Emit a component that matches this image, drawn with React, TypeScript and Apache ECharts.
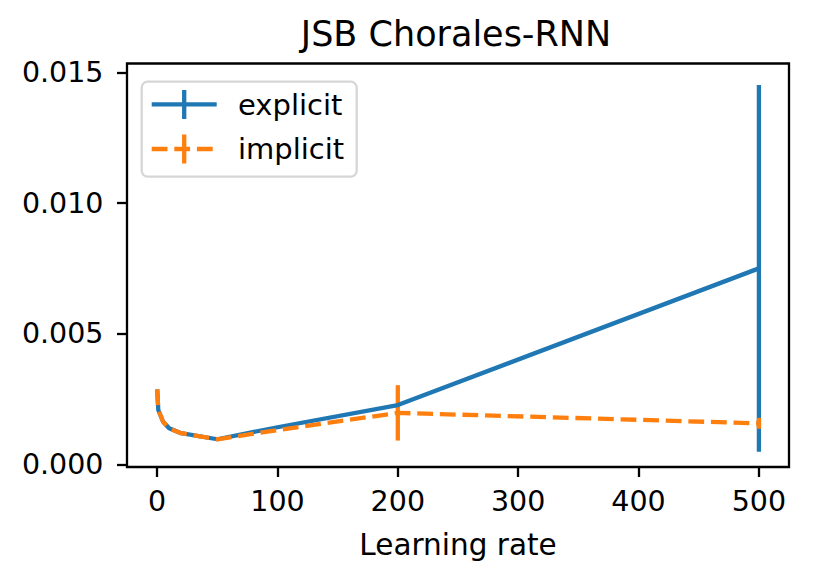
import React, { useEffect, useRef } from 'react';
import * as echarts from 'echarts';

const chartTitle = 'JSB Chorales-RNN';
const xAxisLabel = 'Learning rate';
const seriesNames = ['explicit', 'implicit'];
const learningRates = [0.1, 1, 5, 10, 20, 50, 100, 200, 500];
const explicitValues = [0.00287, 0.00208, 0.00163, 0.00138, 0.00119, 0.00096, 0.00142, 0.00227, 0.0075];
const implicitValues = [0.00287, 0.00208, 0.00163, 0.00138, 0.00119, 0.00096, 0.00131, 0.00197, 0.00157];
const explicitErrors = [0, 0, 0, 0, 0, 0, 0, 0, 0.00702];
const implicitErrors = [0, 0, 0, 0, 0, 0, 0, 0.00106, 0.00021];
const xTicks = [0, 100, 200, 300, 400, 500];
const yTicks = [0, 0.005, 0.01, 0.015];

const BLUE = '#1f77b4';
const ORANGE = '#ff7f0e';
const FONT = 'DejaVu Sans';
const LW = 4.3;
const DASH = [15.8, 6.8];

function errorSeries(name: string, values: number[], errors: number[], color: string) {
  return {
    type: 'custom',
    name: name + ' err',
    data: learningRates.map((x, i) => [x, values[i] - errors[i], values[i] + errors[i]]),
    encode: { x: 0, y: [1, 2] },
    renderItem: (params: any, api: any) => {
      const x = api.value(0);
      const lo = api.value(1);
      const hi = api.value(2);
      if (hi - lo <= 0) return null;
      const p1 = api.coord([x, lo]);
      const p2 = api.coord([x, hi]);
      return {
        type: 'line',
        shape: { x1: p1[0], y1: p1[1], x2: p2[0], y2: p2[1] },
        style: { stroke: color, lineWidth: LW },
      };
    },
    silent: true,
  };
}

export default function App() {
  const ref = useRef<HTMLDivElement>(null);
  useEffect(() => {
    document.body.style.margin = '0';
    const chart = echarts.init(ref.current!, null, { renderer: 'svg' });
    const legX = 141.7;
    const legY = 81.7;
    const option: any = {
      animation: false,
      backgroundColor: '#fff',
      grid: {
        left: 127,
        top: 63.5,
        right: 32,
        bottom: 114,
        show: true,
        borderColor: '#000',
        borderWidth: 2.3,
        backgroundColor: 'transparent',
      },
      xAxis: {
        type: 'value',
        min: -25,
        max: 525,
        splitLine: { show: false },
        axisLine: { show: false, onZero: false },
        axisTick: { show: true, customValues: xTicks, length: 10, lineStyle: { color: '#000', width: 2.3 } },
        axisLabel: { customValues: xTicks, fontSize: 28.5, color: '#000', margin: 20, fontFamily: FONT },
        name: xAxisLabel,
        nameLocation: 'middle',
        nameGap: 63,
        nameTextStyle: { fontSize: 29.5, color: '#000', fontFamily: FONT },
      },
      yAxis: {
        type: 'value',
        min: -0.000102,
        max: 0.015342,
        splitLine: { show: false },
        axisLine: { show: false, onZero: false },
        axisTick: { show: true, customValues: yTicks, length: 10, lineStyle: { color: '#000', width: 2.3 } },
        axisLabel: {
          customValues: yTicks,
          fontSize: 28.5,
          color: '#000',
          margin: 23.5,
          fontFamily: FONT,
          formatter: (v: number) => v.toFixed(3),
        },
      },
      graphic: [
        {
          type: 'text',
          x: 456,
          y: 34,
          style: { text: chartTitle, fontSize: 35, fontFamily: FONT, fill: '#000', align: 'center', verticalAlign: 'middle' },
        },
        {
          type: 'group',
          z: 100,
          children: [
            {
              type: 'rect',
              shape: { x: legX, y: legY, width: 215, height: 95, r: 6 },
              style: { fill: 'rgba(255,255,255,0.8)', stroke: '#d6d6d6', lineWidth: 2.3 },
            },
            {
              type: 'line',
              shape: { x1: 151.7, y1: 104.3, x2: 216.7, y2: 104.3 },
              style: { stroke: BLUE, lineWidth: LW },
            },
            {
              type: 'line',
              shape: { x1: 184.2, y1: 90, x2: 184.2, y2: 119 },
              style: { stroke: BLUE, lineWidth: LW },
            },
            {
              type: 'text',
              x: 238,
              y: 104.5,
              style: { text: seriesNames[0], fontSize: 29, fontFamily: FONT, fill: '#000', verticalAlign: 'middle' },
            },
            {
              type: 'line',
              shape: { x1: 151.7, y1: 149, x2: 216.7, y2: 149 },
              style: { stroke: ORANGE, lineWidth: LW, lineDash: DASH },
            },
            {
              type: 'line',
              shape: { x1: 184.2, y1: 134.5, x2: 184.2, y2: 163.5 },
              style: { stroke: ORANGE, lineWidth: LW },
            },
            {
              type: 'text',
              x: 238,
              y: 149,
              style: { text: seriesNames[1], fontSize: 29, fontFamily: FONT, fill: '#000', verticalAlign: 'middle' },
            },
          ],
        },
      ],
      series: [
        {
          type: 'line',
          name: seriesNames[0],
          data: learningRates.map((x, i) => [x, explicitValues[i]]),
          showSymbol: false,
          symbol: 'none',
          lineStyle: { color: BLUE, width: LW, join: 'round' },
          itemStyle: { color: BLUE },
        },
        errorSeries(seriesNames[0], explicitValues, explicitErrors, BLUE),
        {
          type: 'line',
          name: seriesNames[1],
          data: learningRates.map((x, i) => [x, implicitValues[i]]),
          showSymbol: false,
          symbol: 'none',
          lineStyle: { color: ORANGE, width: LW, type: DASH },
          itemStyle: { color: ORANGE },
        },
        errorSeries(seriesNames[1], implicitValues, implicitErrors, ORANGE),
      ],
    };
    chart.setOption(option);
    return () => chart.dispose();
  }, []);
  return <div ref={ref} style={{ width: 821, height: 581 }} />;
}
